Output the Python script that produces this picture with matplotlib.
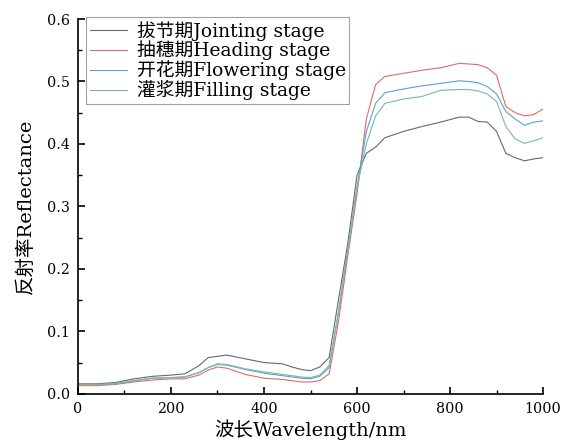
import matplotlib
matplotlib.use('Agg')
import matplotlib.pyplot as plt
from matplotlib.ticker import MultipleLocator

plt.rcParams['font.family'] = ['DejaVu Serif', 'Noto Sans CJK SC']
plt.rcParams['axes.unicode_minus'] = False

# 数据
wavelength = [0, 40, 80, 120, 160, 200, 230, 260, 280, 300, 320, 360, 400, 440, 460,
              480, 500, 520, 540, 560, 580, 600, 620, 640, 660, 700, 740, 780, 820,
              840, 860, 880, 900, 920, 940, 960, 980, 1000]

jointing = [0.016, 0.016, 0.018, 0.024, 0.028, 0.030, 0.032, 0.045, 0.058, 0.060, 0.062,
            0.056, 0.050, 0.048, 0.043, 0.039, 0.037, 0.043, 0.058, 0.150, 0.240, 0.350,
            0.385, 0.395, 0.410, 0.420, 0.428, 0.435, 0.443, 0.443, 0.436, 0.435, 0.420,
            0.385, 0.378, 0.373, 0.376, 0.378]

heading = [0.013, 0.013, 0.015, 0.019, 0.022, 0.024, 0.024, 0.030, 0.038, 0.043, 0.041,
           0.031, 0.025, 0.023, 0.021, 0.019, 0.019, 0.021, 0.032, 0.115, 0.220, 0.320,
           0.440, 0.495, 0.508, 0.513, 0.518, 0.522, 0.529, 0.528, 0.527, 0.522, 0.510,
           0.460, 0.450, 0.445, 0.447, 0.456]

flowering = [0.015, 0.015, 0.016, 0.021, 0.025, 0.026, 0.027, 0.034, 0.042, 0.047, 0.046,
             0.039, 0.033, 0.029, 0.027, 0.025, 0.024, 0.028, 0.042, 0.130, 0.230, 0.330,
             0.420, 0.465, 0.482, 0.488, 0.493, 0.497, 0.501, 0.500, 0.498, 0.492, 0.480,
             0.452, 0.440, 0.430, 0.435, 0.437]

filling = [0.015, 0.015, 0.016, 0.021, 0.025, 0.026, 0.027, 0.034, 0.042, 0.048, 0.047,
           0.040, 0.035, 0.031, 0.029, 0.027, 0.026, 0.030, 0.045, 0.130, 0.230, 0.330,
           0.400, 0.445, 0.465, 0.472, 0.476, 0.486, 0.487, 0.487, 0.485, 0.480, 0.468,
           0.428, 0.408, 0.401, 0.405, 0.410]

labels = ['拔节期Jointing stage', '抽穗期Heading stage', '开花期Flowering stage', '灌浆期Filling stage']
colors = ['#6b6570', '#e06a6a', '#5c9fd6', '#72bca0']

fig = plt.figure(figsize=(5.61, 4.42), dpi=100)
ax = fig.add_axes([0.139, 0.109, 0.829, 0.848])

for ys, lab, c in zip([jointing, heading, flowering, filling], labels, colors):
    ax.plot(wavelength, ys, color=c, linewidth=0.8, label=lab)

ax.set_xlim(0, 1000)
ax.set_ylim(0, 0.6)
ax.xaxis.set_major_locator(MultipleLocator(200))
ax.xaxis.set_minor_locator(MultipleLocator(100))
ax.yaxis.set_major_locator(MultipleLocator(0.1))
ax.yaxis.set_minor_locator(MultipleLocator(0.05))
ax.set_yticklabels([f'{v:.1f}' for v in ax.get_yticks()])
ax.tick_params(which='major', direction='in', length=5, width=1.2, labelsize=10.3, pad=6)
ax.tick_params(which='minor', direction='in', length=3, width=1)

for s in ['top', 'right']:
    ax.spines[s].set_visible(False)
for s in ['left', 'bottom']:
    ax.spines[s].set_linewidth(1.2)

ax.set_xlabel('波长Wavelength/nm', fontsize=14, labelpad=2)
ax.set_ylabel('反射率Reflectance', fontsize=14, labelpad=8)

leg = ax.legend(loc='upper left', bbox_to_anchor=(0.017, 1.005), fontsize=13.5,
                frameon=True, fancybox=False, edgecolor='#888888', borderpad=0.2,
                labelspacing=0.0, handlelength=2.0, handletextpad=0.5, borderaxespad=0)
leg.get_frame().set_linewidth(0.8)

fig.savefig('out.png', dpi=100)
